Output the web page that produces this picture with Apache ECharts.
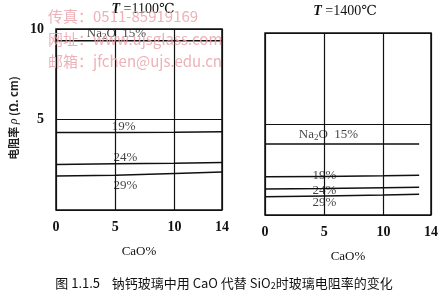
<!DOCTYPE html>
<html><head><meta charset="utf-8">
<script src="https://cdn.jsdelivr.net/npm/echarts@6/dist/echarts.min.js"></script>
<style>html,body{margin:0;padding:0;background:#fff}#c{width:441px;height:296px}</style>
</head><body><div id="c"></div>
<script>
// ---- data ----
var xTicks = [0, 5, 10, 14];
var xLeft = [0, 5, 10, 14];
var left15 = [9.35, 9.35, 9.35, 9.35];
var left19 = [4.28, 4.28, 4.3, 4.32];
var left24 = [2.52, 2.55, 2.58, 2.62];
var left29 = [1.88, 1.92, 2.02, 2.1];
var xRight = [0, 5, 10, 13];
var right15 = [3.9, 3.9, 3.9, 3.9];
var right19 = [2.1, 2.12, 2.15, 2.18];
var right24 = [1.43, 1.45, 1.5, 1.53];
var right29 = [1.0, 1.05, 1.1, 1.14];
var leftLabels = [['Na2O 15%', 2.6, 9.72], ['19%', 4.7, 4.6], ['24%', 4.85, 2.87], ['29%', 4.85, 1.33]];
var rightLabels = [['Na2O 15%', 2.85, 4.4], ['19%', 4.0, 2.14], ['24%', 4.0, 1.32], ['29%', 4.0, 0.66]];
var titles = ['1100℃', '1400℃'];

var serif = '"Liberation Serif","DejaVu Serif",serif';
var chart = echarts.init(document.getElementById('c'));
function pairs(xs, ys){ return xs.map(function(x,i){return [x, ys[i]];}); }
function lineSeries(idx, xs, ys){
  return {type:'line', xAxisIndex:idx, yAxisIndex:idx, data:pairs(xs, ys), showSymbol:false, symbol:'none',
    lineStyle:{color:'#111', width:1.5}, silent:true, z:3};
}
function labelSeries(idx, labs){
  return {type:'scatter', xAxisIndex:idx, yAxisIndex:idx, symbolSize:0, silent:true, z:5,
    data: labs.map(function(l){return {value:[l[1], l[2]], name:l[0]};}),
    label:{show:true, position:'inside', align:'left', verticalAlign:'middle', color:'#111',
      fontFamily:serif, fontSize:13,
      formatter:function(p){ return p.name.indexOf('Na2O')===0 ? '{n|Na}{s|2}{n|O  15%}' : '{n|'+p.name+'}'; },
      rich:{n:{fontFamily:serif, fontSize:13, color:'#111'}, s:{fontFamily:serif, fontSize:9, color:'#111', verticalAlign:'bottom', padding:[6,0,0,0]}}
    }};
}
function xAx(idx){
  return {type:'value', gridIndex:idx, min:0, max:14, interval:5,
    axisLine:{show:false}, axisTick:{show:false},
    splitLine:{show:true, lineStyle:{color:'#111', width:1.2}},
    axisLabel:{customValues:xTicks, color:'#111', fontFamily:serif, fontSize:14, fontWeight:'bold', margin:10},
    name:'CaO%', nameLocation:'middle', nameGap:35, nameTextStyle:{color:'#111', fontFamily:serif, fontSize:13}};
}
function yAx(idx, showLab){
  return {type:'value', gridIndex:idx, min:0, max:10, interval:5,
    axisLine:{show:false}, axisTick:{show:false},
    splitLine:{show:true, lineStyle:{color:'#111', width:1.2}},
    axisLabel:{show:showLab, color:'#111', fontFamily:serif, fontSize:14, fontWeight:'bold', margin:12,
      formatter:function(v){return v===0?'':String(v);}}};
}
var wm = '#eba3ab';
chart.setOption({
  backgroundColor:'#fff',
  animation:false,
  grid:[
    {left:56, top:29, width:166, height:181, show:true, borderColor:'#111', borderWidth:1.5},
    {left:265, top:33, width:167, height:182, show:true, borderColor:'#111', borderWidth:1.5}
  ],
  xAxis:[xAx(0), xAx(1)],
  yAxis:[yAx(0, true), yAx(1, false)],
  series:[
    lineSeries(0, xLeft, left15), lineSeries(0, xLeft, left19), lineSeries(0, xLeft, left24), lineSeries(0, xLeft, left29),
    lineSeries(1, xRight, right15), lineSeries(1, xRight, right19), lineSeries(1, xRight, right24), lineSeries(1, xRight, right29),
    labelSeries(0, leftLabels), labelSeries(1, rightLabels)
  ],
  graphic:[
    {type:'text', x:143, y:9, style:{text:'{i|T} =' + titles[0], align:'center', verticalAlign:'middle',
      rich:{i:{fontFamily:serif, fontStyle:'italic', fontWeight:'bold', fontSize:14, fill:'#111'}}, font:'14px '+serif, fill:'#111'}},
    {type:'text', x:345, y:11, style:{text:'{i|T} =' + titles[1], align:'center', verticalAlign:'middle',
      rich:{i:{fontFamily:serif, fontStyle:'italic', fontWeight:'bold', fontSize:14, fill:'#111'}}, font:'14px '+serif, fill:'#111'}},
    {type:'text', x:14, y:118, rotation:Math.PI/2, style:{text:'电阻率 {i|ρ} (Ω. cm)', align:'center', verticalAlign:'middle',
      font:'bold 11px "Noto Sans CJK SC"', fill:'#222', rich:{i:{fontStyle:'italic', fontFamily:serif, fontSize:12, fill:'#222'}}}},
    {type:'text', x:224, y:283, style:{text:'图 1.1.5    钠钙玻璃中用 CaO 代替 SiO{s|2}时玻璃电阻率的变化', align:'center', verticalAlign:'middle',
      font:'13px "Noto Sans CJK SC"', fill:'#111', rich:{s:{fontSize:9, fontFamily:'"Noto Sans CJK SC"', fill:'#111', verticalAlign:'bottom', padding:[5,0,0,0]}}}},
    {type:'text', x:48, y:16, z:10, style:{text:'传真：0511-85919169', verticalAlign:'middle', font:'15px "Noto Sans CJK SC"', fill:wm, opacity:0.85}},
    {type:'text', x:48, y:39, z:10, style:{text:'网址：www.ujsglass.com', verticalAlign:'middle', font:'15px "Noto Sans CJK SC"', fill:wm, opacity:0.85}},
    {type:'text', x:48, y:61, z:10, style:{text:'邮箱：jfchen@ujs.edu.cn', verticalAlign:'middle', font:'15px "Noto Sans CJK SC"', fill:wm, opacity:0.85}}
  ]
});
</script></body></html>
